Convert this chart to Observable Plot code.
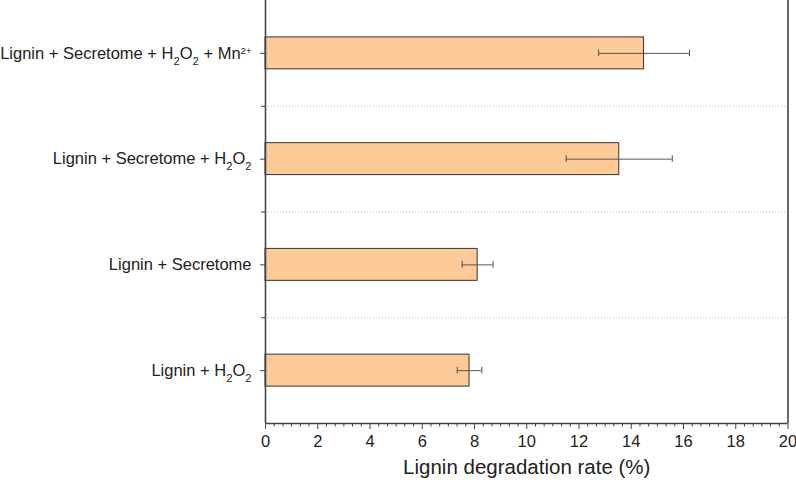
<!DOCTYPE html>
<html><head><meta charset="utf-8">
<script src="https://cdn.jsdelivr.net/npm/d3@7"></script>
<script src="https://cdn.jsdelivr.net/npm/@observablehq/plot@0.6"></script>
<style>body{margin:0;background:#fff} svg{font-family:"Liberation Sans",Arial,sans-serif}</style>
</head><body><div id="chart"></div>
<script>
// Data (top to bottom)
const categories = ["Lignin + Secretome + H2O2 + Mn2+", "Lignin + Secretome + H2O2", "Lignin + Secretome", "Lignin + H2O2"];
const means = [14.49, 13.54, 8.12, 7.81];
const sds = [1.74, 2.03, 0.59, 0.47];
const xMajorTicks = [0, 2, 4, 6, 8, 10, 12, 14, 16, 18, 20];
const xTitle = "Lignin degradation rate (%)";

const data = categories.map((c, i) => ({i, cat: c, mean: means[i], sd: sds[i]}));
const BAR = 0.151, CAP = 0.032;
const minorX = d3.range(0, 61).filter(k => k % 6 !== 0).map(k => k / 3);

const plot = Plot.plot({
  width: 796, height: 484,
  marginLeft: 265, marginRight: 8.5, marginTop: 0, marginBottom: 61,
  x: {domain: [0, 20]},
  y: {domain: [-0.5, 3.5], reverse: true},
  style: {fontFamily: "Liberation Sans, Arial, sans-serif", color: "#222", background: "#fff"},
  marks: [
    Plot.ruleY([0.5, 1.5, 2.5], {stroke: "#bbb", strokeDasharray: "1,2"}),
    Plot.rectX(data, {x1: 0, x2: "mean", y1: d => d.i - BAR, y2: d => d.i + BAR, fill: "#fdca98", stroke: "#333"}),
    Plot.ruleY(data, {y: "i", x1: d => d.mean - d.sd, x2: d => d.mean + d.sd, stroke: "#555"}),
    Plot.ruleX(data, {x: d => d.mean - d.sd, y1: d => d.i - CAP, y2: d => d.i + CAP, stroke: "#555"}),
    Plot.ruleX(data, {x: d => d.mean + d.sd, y1: d => d.i - CAP, y2: d => d.i + CAP, stroke: "#555"}),
    Plot.ruleX([0, 20], {stroke: "#444", strokeWidth: 1.6}),
    Plot.ruleY([3.5], {stroke: "#444", strokeWidth: 1.6}),
    Plot.axisX({ticks: xMajorTicks, tickSize: 6, tickPadding: 6, fontSize: 16.5, label: null, stroke: "#444"}),
    Plot.axisX({ticks: minorX, tickSize: 3.5, tickFormat: () => "", label: null, stroke: "#444"}),
    Plot.text([xTitle], {frameAnchor: "bottom", lineAnchor: "middle", dy: 44, fontSize: 20.5, fill: "#222"}),
    Plot.axisY({ticks: [0, 1, 2, 3], tickFormat: i => categories[i], tickSize: 5, tickPadding: 9, fontSize: 16.5, label: null, stroke: "#444"}),
    Plot.axisY({ticks: [0.5, 1.5, 2.5], tickSize: 4, tickFormat: () => "", label: null, stroke: "#444"})
  ]
});
document.getElementById("chart").append(plot);

function markup(s) {
  return s.replace(/H2O2/g, 'H<tspan baseline-shift="sub" font-size="68%">2</tspan>O<tspan baseline-shift="sub" font-size="68%">2</tspan>')
          .replace(/ \+ Mn2\+/g, ' + Mn<tspan baseline-shift="super" font-size="58%">2+</tspan>');
}
d3.select(plot).selectAll('g[aria-label="y-axis tick label"] text').each(function() {
  const t = this.textContent;
  if (t) this.innerHTML = markup(t);
});
</script>
</body></html>
